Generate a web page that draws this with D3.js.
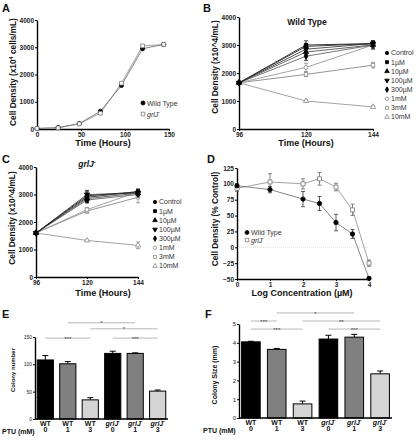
<!DOCTYPE html>
<html><head><meta charset="utf-8">
<script src="https://cdn.jsdelivr.net/npm/d3@7"></script>
<style>body{margin:0;background:#fff} svg{display:block} text{font-family:"Liberation Sans",Arial,sans-serif}</style>
</head><body><svg id="c" width="420" height="440"></svg>
<script>
// ---------- DATA ----------
const timeA = [0, 24, 48, 72, 96, 120, 144];
const wildTypeA = [20, 50, 200, 650, 1600, 2950, 3100];
const grlJA = [20, 40, 190, 580, 1680, 3050, 3100];
const ticksA_x = [0, 50, 100, 150];
const ticksDensity = [0, 1000, 2000, 3000, 4000];

const timeBC = [96, 120, 144];
const concLabels = ["Control", "1µM", "10µM", "100µM", "300µM", "1mM", "3mM", "10mM"];
const wildTypeB = [
  [1650, 3000, 3050], [1650, 2950, 3050], [1650, 2750, 3000], [1650, 2850, 3050],
  [1650, 2600, 3000], [1650, 2200, 3000], [1650, 1950, 2280], [1650, 1000, 790]];
const wildTypeBErr = [
  [0, 150, 100], [0, 100, 80], [0, 100, 150], [0, 100, 80],
  [0, 150, 100], [0, 150, 120], [0, 80, 100], [0, 30, 40]];
const grlJC = [
  [1600, 2950, 3100], [1600, 2900, 3100], [1600, 2850, 3050], [1600, 3000, 3050],
  [1600, 2800, 3000], [1600, 2450, 3100], [1600, 2400, 2900], [1600, 1330, 1150]];
const grlJCErr = [
  [0, 200, 100], [0, 150, 80], [0, 150, 100], [0, 120, 80],
  [0, 100, 100], [0, 80, 100], [0, 80, 200], [0, 30, 120]];

const logConc = [0, 1, 2, 2.5, 3, 3.5, 4];
const wildTypeD = [97, 91, 76, 69, 39, 21, -49];
const wildTypeDErr = [3, 5, 12, 11, 13, 7, 2];
const grlJD = [93, 103, 100, 108, 95, 59, -25];
const grlJDErr = [5, 13, 8, 10, 6, 9, 5];
const ticksD_y = [-50, -25, 0, 25, 50, 75, 100, 125];

const strains = ["WT", "WT", "WT", "grlJ", "grlJ", "grlJ"];
const ptu = [0, 1, 3, 0, 1, 3];
const colonyNumber = [108, 101, 35, 120, 120, 51];
const colonyNumberErr = [8, 4, 4, 4, 1, 2];
const colonySize = [4.05, 3.65, 0.75, 4.2, 4.3, 2.35];
const colonySizeErr = [0.03, 0.05, 0.15, 0.2, 0.15, 0.15];
// significance: [from bar, to bar, label, height in data units]
const sigE = [[0, 2, "***", 148], [1, 4, "*", 176], [2, 5, "*", 165], [3, 5, "***", 148]];
const sigF = [[0, 1, "***", 5.16], [1, 4, "*", 5.59], [2, 5, "**", 5.16], [0, 2, "***", 4.73], [3, 5, "***", 4.73]];

// ---------- HELPERS ----------
const svg = d3.select("#c");
const FONT = '"Liberation Sans",Arial,sans-serif';
const fmt = d3.format("d");

function styleAxis(g, fs, bold = true) {
  g.attr("font-family", FONT).attr("font-size", fs);
  g.select(".domain").attr("stroke", "#000").attr("stroke-width", 1.4);
  g.selectAll(".tick line").attr("stroke", "#000").attr("stroke-width", 1);
  g.selectAll(".tick text").attr("fill", "#222").attr("font-weight", bold ? "bold" : "normal");
}
function text(x, y, str, opt = {}) {
  const t = svg.append("text").attr("x", x).attr("y", y)
    .attr("font-size", opt.size || 8).attr("font-weight", opt.weight || "bold")
    .attr("fill", opt.fill || "#111").attr("text-anchor", opt.anchor || "start");
  if (opt.rotate) t.attr("transform", `rotate(-90,${x},${y})`);
  if (str !== null) t.text(str);
  return t;
}
function grl(t, fs) {
  t.append("tspan").attr("font-style", "italic").text("grlJ");
  t.append("tspan").attr("font-size", fs * 0.7).attr("dy", -fs * 0.35).text("-");
  return t;
}
function symbolFor(i) {
  const list = [d3.symbolCircle, d3.symbolSquare, d3.symbolTriangle, d3.symbolTriangle,
    d3.symbolDiamond, d3.symbolCircle, d3.symbolSquare, d3.symbolTriangle];
  return list[i];
}
const filled = i => i < 5;
const lineGray = ["#222", "#333", "#555", "#444", "#666", "#999", "#888", "#999"];

function drawSeries(x, y, xs, ys, errs, opt) {
  const line = d3.line().x((d, i) => x(xs[i])).y(d => y(d));
  svg.append("path").attr("d", line(ys)).attr("fill", "none")
    .attr("stroke", opt.line).attr("stroke-width", opt.lw || 0.9);
  if (errs) {
    ys.forEach((v, i) => {
      if (!errs[i]) return;
      const cx = x(xs[i]);
      const g = svg.append("g").attr("stroke", opt.err || opt.line).attr("stroke-width", 0.8);
      g.append("line").attr("x1", cx).attr("x2", cx).attr("y1", y(v - errs[i])).attr("y2", y(v + errs[i]));
      [v - errs[i], v + errs[i]].forEach(e => g.append("line").attr("x1", cx - 2).attr("x2", cx + 2).attr("y1", y(e)).attr("y2", y(e)));
    });
  }
}
function drawMarkers(x, y, xs, ys, sym, opt) {
  ys.forEach((v, i) => {
    svg.append("path").attr("d", d3.symbol().type(sym).size(opt.size || 13)())
      .attr("transform", `translate(${x(xs[i])},${y(v)})${opt.rot ? " rotate(180)" : ""}`)
      .attr("fill", opt.fill).attr("stroke", opt.stroke).attr("stroke-width", opt.sw || 0.8);
  });
}
function legendMarker(cx, cy, sym, opt) {
  svg.append("path").attr("d", d3.symbol().type(sym).size(opt.size || 11)())
    .attr("transform", `translate(${cx},${cy})${opt.rot ? " rotate(180)" : ""}`)
    .attr("fill", opt.fill).attr("stroke", opt.stroke).attr("stroke-width", opt.sw || 0.8);
}

// ---------- PANEL A ----------
{
  const x = d3.scaleLinear().domain([0, 150]).range([37, 169]);
  const y = d3.scaleLinear().domain([0, 4000]).range([129, 20]);
  styleAxis(svg.append("g").attr("transform", "translate(0,129)")
    .call(d3.axisBottom(x).tickValues(ticksA_x).tickFormat(fmt).tickSize(2).tickSizeOuter(0).tickPadding(1.5)), 6.5);
  styleAxis(svg.append("g").attr("transform", "translate(37,0)")
    .call(d3.axisLeft(y).tickValues(ticksDensity).tickFormat(fmt).tickSize(2).tickSizeOuter(0).tickPadding(1)), 6.5);
  drawSeries(x, y, timeA, grlJA, null, { line: "#999" });
  drawSeries(x, y, timeA, wildTypeA, null, { line: "#777" });
  drawMarkers(x, y, timeA, wildTypeA, d3.symbolCircle, { fill: "#000", stroke: "#000", size: 14 });
  drawMarkers(x, y, timeA, grlJA, d3.symbolSquare, { fill: "#fff", stroke: "#777", size: 14 });
  text(103, 146, "Time (Hours)", { size: 9, anchor: "middle" });
  const yt = text(16, 72, null, { size: 8.3, anchor: "middle", rotate: true });
  yt.append("tspan").text("Cell Density (x10");
  yt.append("tspan").attr("font-size", 5.5).attr("dy", -3).text("4");
  yt.append("tspan").attr("dy", 3).text(" cells/mL)");
  text(2, 12, "A", { size: 11 });
  legendMarker(143, 103, d3.symbolCircle, { fill: "#000", stroke: "#000", size: 13 });
  text(147, 105.5, "Wild Type", { size: 7, weight: "normal", fill: "#333" });
  legendMarker(143, 114, d3.symbolSquare, { fill: "#fff", stroke: "#777", size: 13 });
  grl(text(147, 116.5, null, { size: 7, weight: "normal", fill: "#333" }), 7);
}

// ---------- PANELS B & C ----------
function dosePanel(cfg) {
  const x = d3.scaleLinear().domain([96, 144]).range(cfg.xr);
  const y = d3.scaleLinear().domain([0, 4000]).range(cfg.yr);
  styleAxis(svg.append("g").attr("transform", `translate(0,${cfg.yr[0]})`)
    .call(d3.axisBottom(x).tickValues(timeBC).tickFormat(fmt).tickSize(2).tickSizeOuter(0).tickPadding(1.5)), 6.5);
  styleAxis(svg.append("g").attr("transform", `translate(${cfg.xr[0]},0)`)
    .call(d3.axisLeft(y).tickValues(ticksDensity).tickFormat(fmt).tickSize(2).tickSizeOuter(0).tickPadding(1)), 6.5);
  for (let i = cfg.data.length - 1; i >= 0; i--)
    drawSeries(x, y, timeBC, cfg.data[i], cfg.err[i], { line: lineGray[i], err: filled(i) ? "#222" : "#888" });
  for (let i = cfg.data.length - 1; i >= 0; i--)
    drawMarkers(x, y, timeBC, cfg.data[i], symbolFor(i), {
      fill: filled(i) ? "#000" : "#fff", stroke: filled(i) ? "#000" : "#888",
      size: 12, rot: i === 3
    });
  concLabels.forEach((lab, i) => {
    const ly = cfg.ly + i * 9.15;
    legendMarker(cfg.lx, ly, symbolFor(i), {
      fill: filled(i) ? "#000" : "#fff", stroke: filled(i) ? "#000" : "#888", size: 9, rot: i === 3
    });
    text(cfg.lx + 4, ly + 2.4, lab, { size: 7, weight: "normal", fill: "#333" });
  });
}
dosePanel({ xr: [239, 373], yr: [129, 17], data: wildTypeB, err: wildTypeBErr, lx: 387, ly: 53 });
text(307, 25, "Wild Type", { size: 8.5, anchor: "middle" });
text(306, 146, "Time (Hours)", { size: 9, anchor: "middle" });
text(218, 67, "Cell Density (x10^4/mL)", { size: 8.3, anchor: "middle", rotate: true });
text(203, 12, "B", { size: 11 });

dosePanel({ xr: [36, 138], yr: [277, 167], data: grlJC, err: grlJCErr, lx: 155, ly: 202 });
grl(text(87, 167, null, { size: 8.5, anchor: "middle" }), 8.5);
text(103, 296, "Time (Hours)", { size: 9, anchor: "middle" });
text(15, 218, "Cell Density (x10^4/mL)", { size: 8.3, anchor: "middle", rotate: true });
text(2, 163, "C", { size: 11 });

// ---------- PANEL D ----------
{
  const x = d3.scaleLinear().domain([0, 4]).range([237, 369]);
  const y = d3.scaleLinear().domain([-50, 125]).range([279, 168]);
  svg.append("line").attr("x1", x(0)).attr("x2", x(4)).attr("y1", y(0)).attr("y2", y(0))
    .attr("stroke", "#ccc").attr("stroke-width", 0.6).attr("stroke-dasharray", "1,1");
  styleAxis(svg.append("g").attr("transform", "translate(0,279)")
    .call(d3.axisBottom(x).ticks(4).tickFormat(fmt).tickSize(2).tickSizeOuter(0).tickPadding(1.5)), 6.5);
  styleAxis(svg.append("g").attr("transform", "translate(237,0)")
    .call(d3.axisLeft(y).tickValues(ticksD_y).tickFormat(fmt).tickSize(2).tickSizeOuter(0).tickPadding(1)), 6.5);
  drawSeries(x, y, logConc, grlJD, grlJDErr, { line: "#999", err: "#666" });
  drawSeries(x, y, logConc, wildTypeD, wildTypeDErr, { line: "#777", err: "#333" });
  drawMarkers(x, y, logConc, grlJD, d3.symbolSquare, { fill: "#fff", stroke: "#777", size: 16 });
  drawMarkers(x, y, logConc, wildTypeD, d3.symbolCircle, { fill: "#000", stroke: "#000", size: 15 });
  legendMarker(247, 232.5, d3.symbolCircle, { fill: "#000", stroke: "#000", size: 12 });
  text(251, 235, "Wild Type", { size: 7, weight: "normal", fill: "#333" });
  legendMarker(247, 240, d3.symbolSquare, { fill: "#fff", stroke: "#777", size: 12 });
  grl(text(251, 242.5, null, { size: 7, weight: "normal", fill: "#333" }), 7);
  text(302, 296, "Log Concentration (µM)", { size: 9, anchor: "middle" });
  text(218, 219, "Cell Density (% Control)", { size: 8.3, anchor: "middle", rotate: true });
  text(207, 163, "D", { size: 11 });
}

// ---------- PANELS E & F ----------
const barFill = ["#000", "#808080", "#d4d4d4", "#000", "#808080", "#d4d4d4"];
function barPanel(cfg) {
  const idx = d3.range(strains.length);
  const x = d3.scaleBand().domain(idx).range(cfg.xr).paddingInner(0.28).paddingOuter(0.1);
  const y = d3.scaleLinear().domain(cfg.dom).range(cfg.yr);
  idx.forEach(i => {
    const v = cfg.vals[i], e = cfg.errs[i], cx = x(i) + x.bandwidth() / 2;
    svg.append("line").attr("x1", cx).attr("x2", cx).attr("y1", y(v)).attr("y2", y(v + e))
      .attr("stroke", "#000").attr("stroke-width", 1);
    svg.append("line").attr("x1", cx - 3).attr("x2", cx + 3).attr("y1", y(v + e)).attr("y2", y(v + e))
      .attr("stroke", "#000").attr("stroke-width", 1);
    svg.append("rect").attr("x", x(i)).attr("width", x.bandwidth())
      .attr("y", y(v)).attr("height", y(cfg.dom[0]) - y(v))
      .attr("fill", barFill[i]).attr("stroke", "#000").attr("stroke-width", 1);
    const t1 = text(cx, cfg.yr[0] + 6.5, null, { size: 7, anchor: "middle" });
    if (strains[i] === "WT") t1.text("WT"); else grl(t1, 7);
    text(cx, cfg.yr[0] + 13, String(ptu[i]), { size: 7, anchor: "middle" });
  });
  styleAxis(svg.append("g").attr("transform", `translate(${cfg.xr[0]},0)`)
    .call(d3.axisLeft(y).tickValues(cfg.ticks).tickFormat(fmt).tickSize(2).tickSizeOuter(0).tickPadding(1)), cfg.tfs, cfg.tbold);
  svg.append("line").attr("x1", cfg.xr[0]).attr("x2", cfg.xr[1]).attr("y1", cfg.yr[0]).attr("y2", cfg.yr[0])
    .attr("stroke", "#000").attr("stroke-width", 1.4);
  cfg.sig.forEach(([a, b, lab, h]) => {
    const x1 = x(a) + x.bandwidth() / 2, x2 = x(b) + x.bandwidth() / 2, yy = y(h);
    svg.append("line").attr("x1", x1).attr("x2", x2).attr("y1", yy).attr("y2", yy)
      .attr("stroke", "#999").attr("stroke-width", 0.7);
    text((x1 + x2) / 2, yy + 2.6, lab, { size: 6, weight: "normal", fill: "#444", anchor: "middle" });
  });
}
barPanel({ xr: [35, 168], yr: [419, 337], dom: [0, 150], ticks: [0, 50, 100, 150],
  vals: colonyNumber, errs: colonyNumberErr, sig: sigE, tfs: 5, tbold: false });
text(15, 370, "Colony number", { size: 6, anchor: "middle", rotate: true });
text(2, 434, "PTU (mM)", { size: 7 });
text(2, 318, "E", { size: 11 });

barPanel({ xr: [239, 392], yr: [418, 324], dom: [0, 5], ticks: [0, 1, 2, 3, 4, 5],
  vals: colonySize, errs: colonySizeErr, sig: sigF, tfs: 6, tbold: false });
text(217, 375, "Colony Size (mm)", { size: 7, anchor: "middle", rotate: true });
text(203, 433, "PTU (mM)", { size: 7 });
text(205, 318, "F", { size: 11 });
</script></body></html>
